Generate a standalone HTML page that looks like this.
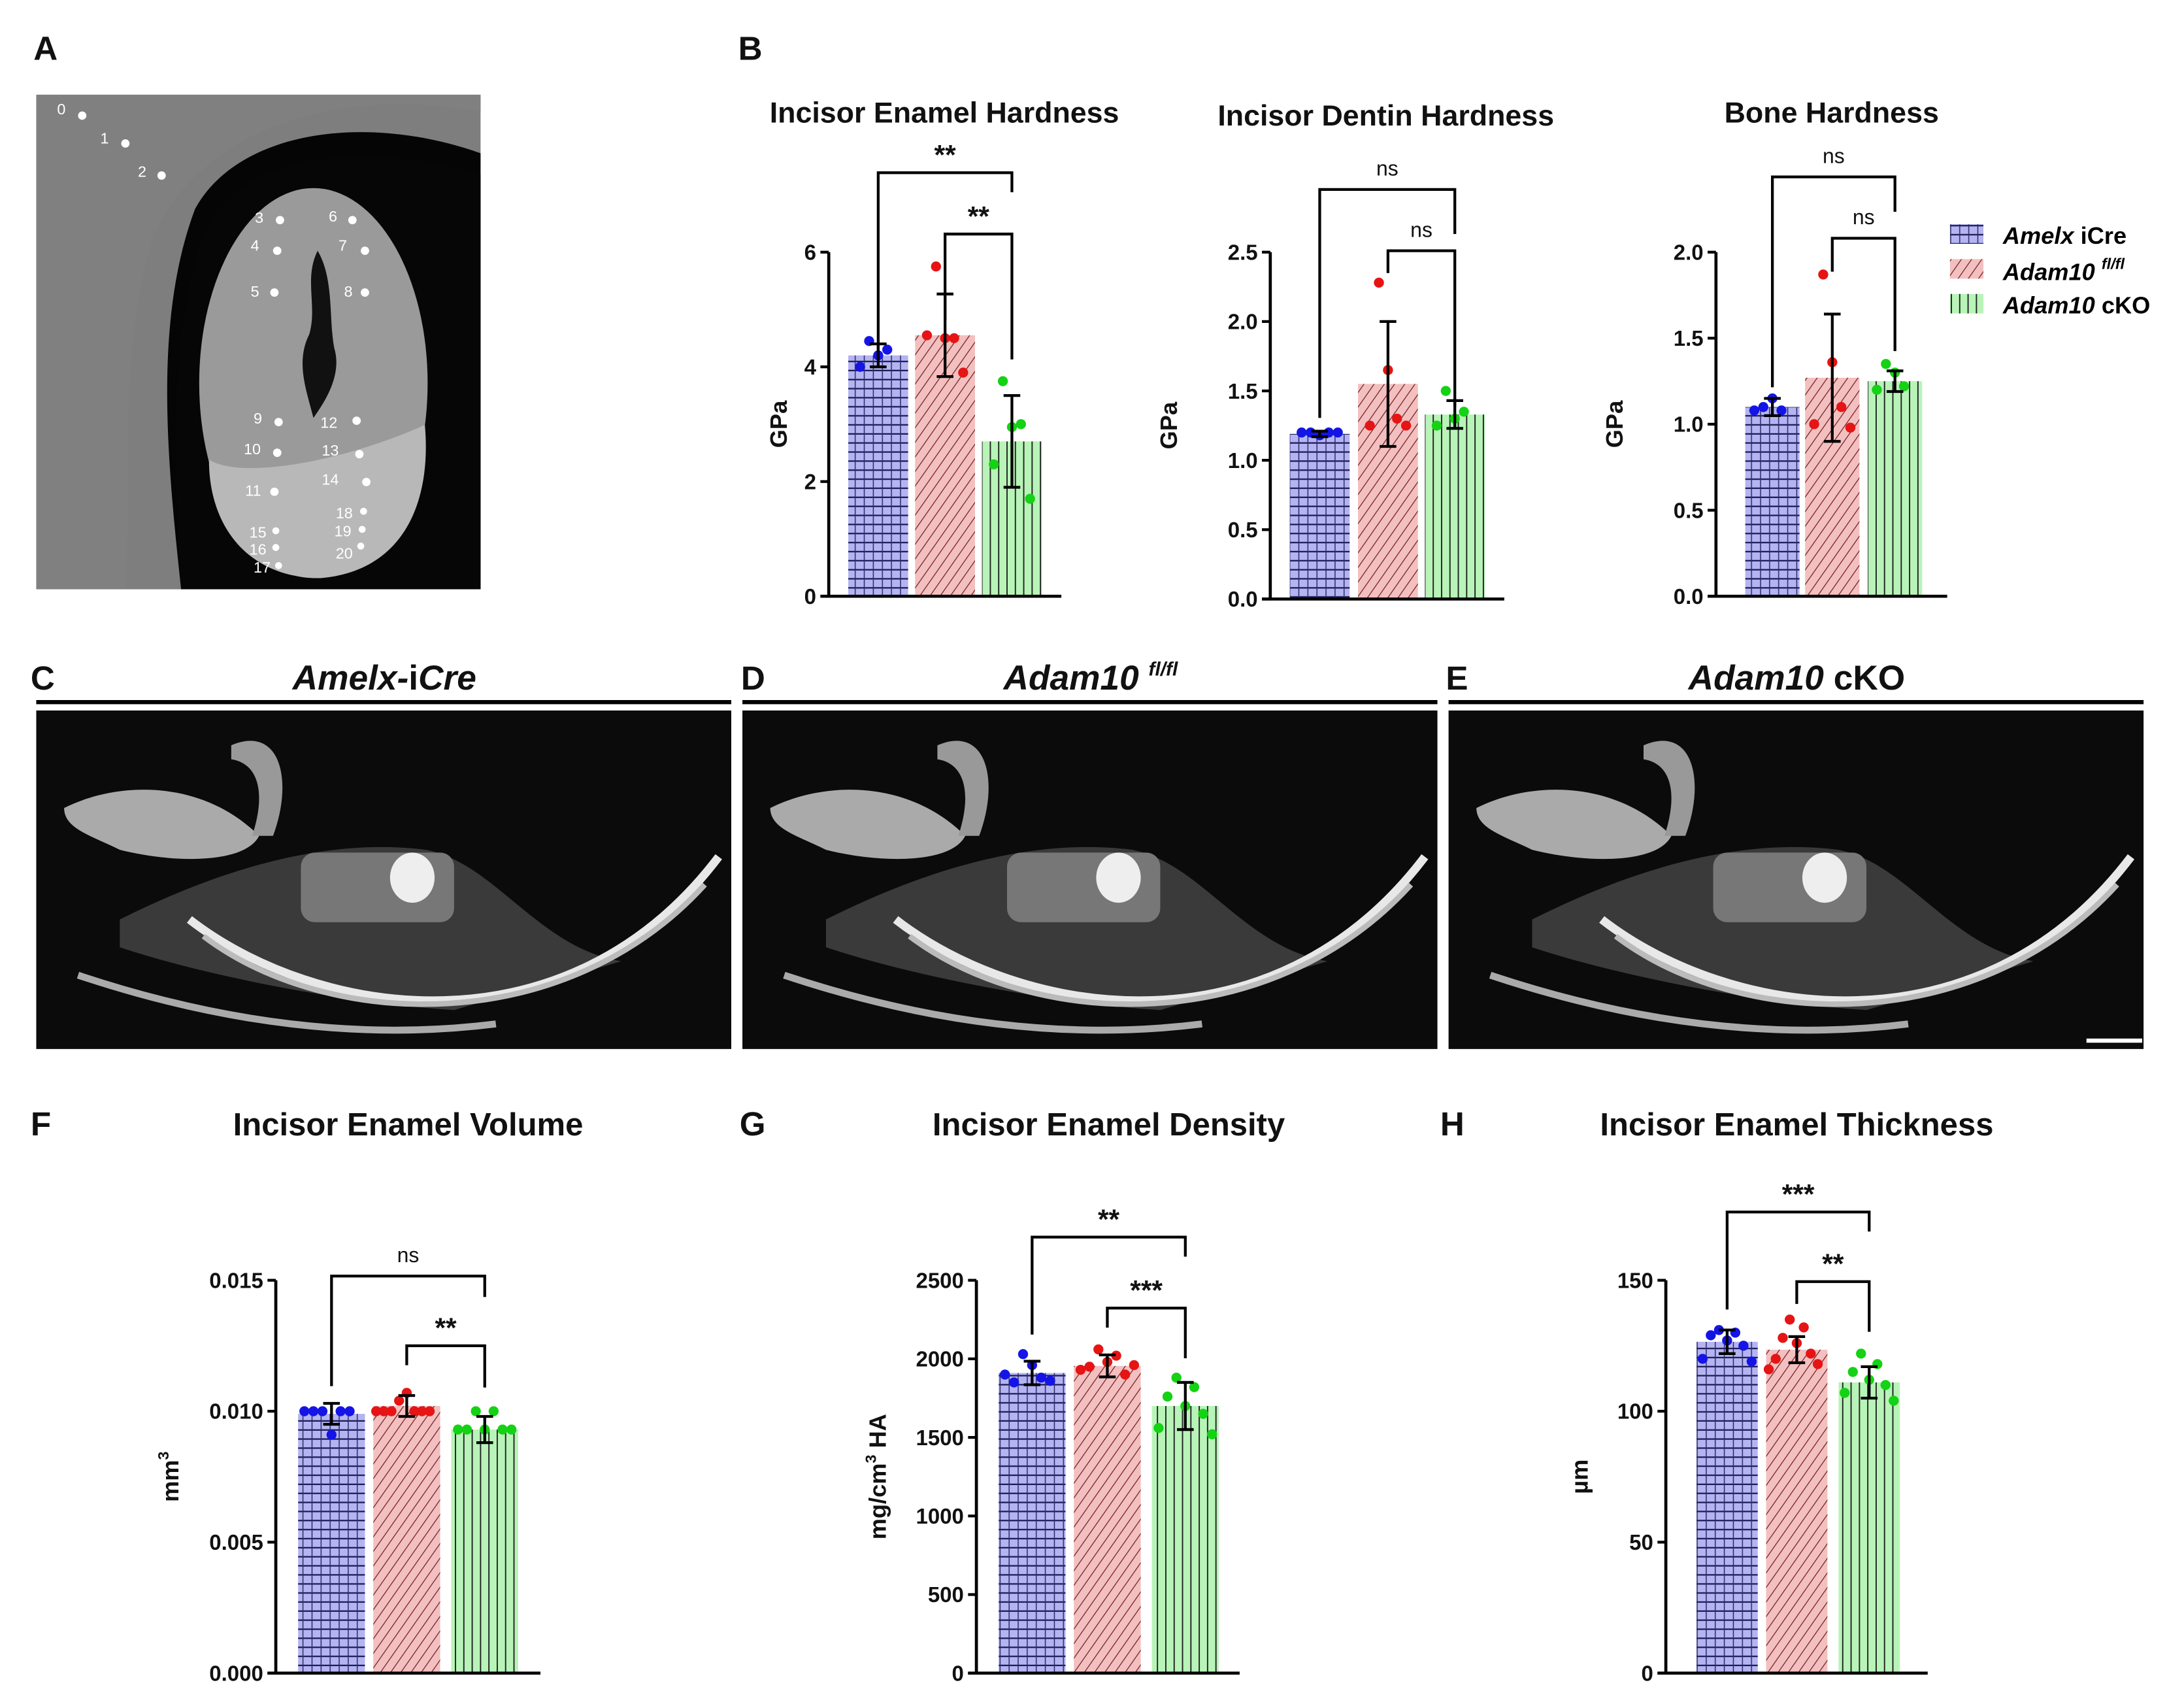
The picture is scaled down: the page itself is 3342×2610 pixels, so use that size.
<!DOCTYPE html>
<html><head><meta charset="utf-8"><style>
html,body{margin:0;padding:0;background:#fff}
svg{display:block}
text{font-family:"Liberation Sans",Arial,sans-serif}
</style></head><body>
<svg id="fig" xmlns="http://www.w3.org/2000/svg" width="3342" height="2610" viewBox="0 0 1568 1224.6">
<defs>
<pattern id="pBlue" patternUnits="userSpaceOnUse" width="6.5" height="6.5"><rect width="6.5" height="6.5" fill="#b4b4f2"/><line x1="0" y1="6" x2="6.5" y2="6" stroke="#1a1a55" stroke-width="1.1"/><line x1="3" y1="0" x2="3" y2="6.5" stroke="#2a2a66" stroke-width="0.7"/></pattern>
<pattern id="pRed" patternUnits="userSpaceOnUse" width="6" height="6" patternTransform="rotate(35)"><rect width="6" height="6" fill="#f2c0c0"/><line x1="0" y1="0" x2="0" y2="6" stroke="#7a2020" stroke-width="1.2"/></pattern>
<pattern id="pGreen" patternUnits="userSpaceOnUse" width="6" height="6"><rect width="6" height="6" fill="#b8f4b8"/><line x1="3" y1="0" x2="3" y2="6" stroke="#222" stroke-width="0.9"/></pattern>
</defs>

<g font-weight="bold" font-size="24" fill="#111">
<text x="24" y="43">A</text>
<text x="530" y="43">B</text>
<text x="22" y="495">C</text>
<text x="532" y="495">D</text>
<text x="1038" y="495">E</text>
<text x="22" y="815">F</text>
<text x="531" y="815">G</text>
<text x="1034" y="815">H</text>
</g>

<g>
<rect x="26" y="68" width="319" height="355" fill="#7e7e7e"/>
<path d="M130,423 C120,330 110,230 140,150 C170,95 260,80 345,110 L345,423 Z" fill="#050505"/>
<path d="M90,423 C95,330 85,250 110,170 C140,100 230,60 345,80 L345,68 L26,68 L26,423 Z" fill="#808080"/>
<path d="M130,423 C125,330 120,230 150,160 C180,110 260,100 345,125 L345,423 Z" fill="#060606"/>
<ellipse cx="225" cy="275" rx="82" ry="140" fill="#9a9a9a"/>
<path d="M150,330 C175,345 250,330 305,305 C310,360 290,410 230,415 C180,415 150,380 150,330 Z" fill="#b8b8b8"/>
<path d="M228,180 C240,200 236,230 240,250 C246,270 232,290 225,300 C220,280 212,260 222,240 C228,220 218,200 228,180 Z" fill="#111"/>
<g fill="#fff"><circle cx="59" cy="83" r="3"/><circle cx="90" cy="103" r="3"/><circle cx="116" cy="126" r="3"/><circle cx="201" cy="158" r="3"/><circle cx="253" cy="158" r="3"/><circle cx="199" cy="180" r="3"/><circle cx="262" cy="180" r="3"/><circle cx="197" cy="210" r="3"/><circle cx="262" cy="210" r="3"/><circle cx="200" cy="303" r="3"/><circle cx="256" cy="302" r="3"/><circle cx="199" cy="325" r="3"/><circle cx="258" cy="326" r="3"/><circle cx="197" cy="353" r="3"/><circle cx="263" cy="346" r="3"/><circle cx="198" cy="381" r="2.5"/><circle cx="198" cy="393" r="2.5"/><circle cx="200" cy="406" r="2.5"/><circle cx="261" cy="367" r="2.5"/><circle cx="260" cy="380" r="2.5"/><circle cx="259" cy="392" r="2.5"/></g>
<g fill="#fff" font-size="11"><text x="41" y="82">0</text><text x="72" y="103">1</text><text x="99" y="127">2</text><text x="183" y="160">3</text><text x="236" y="159">6</text><text x="180" y="180">4</text><text x="243" y="180">7</text><text x="180" y="213">5</text><text x="247" y="213">8</text><text x="182" y="304">9</text><text x="230" y="307">12</text><text x="175" y="326">10</text><text x="231" y="327">13</text><text x="176" y="356">11</text><text x="231" y="348">14</text><text x="179" y="386">15</text><text x="179" y="398">16</text><text x="182" y="411">17</text><text x="241" y="372">18</text><text x="240" y="385">19</text><text x="241" y="401">20</text></g>
</g>

<g id="ctPanels"></g>
<g id="charts"></g>

<g font-weight="bold" font-style="italic" font-size="17">
<rect x="1400" y="161" width="24" height="14" fill="url(#pBlue)"/>
<text x="1438" y="175">Amelx <tspan font-style="normal">iCre</tspan></text>
<rect x="1400" y="186" width="24" height="14" fill="url(#pRed)"/>
<text x="1438" y="201">Adam10 <tspan font-size="11" dy="-8">fl/fl</tspan></text>
<rect x="1400" y="211" width="24" height="14" fill="url(#pGreen)"/>
<text x="1438" y="225">Adam10 <tspan font-style="normal">cKO</tspan></text>
</g>
</svg>
<script>
const groups = ["Amelx iCre", "Adam10 fl/fl", "Adam10 cKO"];
const enamelHardMeans = [4.2, 4.55, 2.7];
const enamelHardSD = [0.2, 0.72, 0.8];
const enamelHardPts = [[4.2, 4.45, 4.3, 4.0], [4.5, 5.75, 4.5, 4.55, 3.9], [2.95, 3.75, 3.0, 2.3, 1.7]];
const enamelHardTicks = [0, 2, 4, 6];
const dentinHardMeans = [1.19, 1.55, 1.33];
const dentinHardSD = [0.02, 0.45, 0.1];
const dentinHardPts = [[1.18, 1.2, 1.2, 1.2, 1.2], [1.65, 2.28, 1.3, 1.25, 1.25], [1.3, 1.5, 1.35, 1.25]];
const dentinHardTicks = [0.0, 0.5, 1.0, 1.5, 2.0, 2.5];
const boneHardMeans = [1.1, 1.27, 1.25];
const boneHardSD = [0.05, 0.37, 0.06];
const boneHardPts = [[1.15, 1.1, 1.08, 1.08], [1.36, 1.87, 1.1, 1.0, 0.98], [1.3, 1.35, 1.22, 1.2]];
const boneHardTicks = [0.0, 0.5, 1.0, 1.5, 2.0];
const volMeans = [0.0099, 0.0102, 0.0093];
const volSD = [0.0004, 0.0004, 0.0005];
const volPts = [[0.0091, 0.01, 0.01, 0.01, 0.01, 0.01], [0.0107, 0.0104, 0.01, 0.01, 0.01, 0.01, 0.01, 0.01], [0.0093, 0.01, 0.01, 0.0093, 0.0093, 0.0093, 0.0093]];
const volTicks = [0.000, 0.005, 0.010, 0.015];
const densMeans = [1910, 1955, 1700];
const densSD = [75, 70, 150];
const densPts = [[1960, 2030, 1880, 1850, 1860, 1900], [1980, 2060, 2020, 1950, 1900, 1930, 1960], [1700, 1880, 1820, 1760, 1650, 1560, 1520]];
const densTicks = [0, 500, 1000, 1500, 2000, 2500];
const thickMeans = [126.5, 123.5, 111];
const thickSD = [4.5, 5, 6];
const thickPts = [[127, 131, 130, 129, 125, 120, 119], [126, 135, 132, 128, 122, 120, 118, 116], [112, 122, 118, 115, 110, 107, 104]];
const thickTicks = [0, 50, 100, 150];

const NS = "http://www.w3.org/2000/svg";
function el(tag, attrs, parent) {
  const e = document.createElementNS(NS, tag);
  for (const k in attrs) e.setAttribute(k, attrs[k]);
  parent.appendChild(e);
  return e;
}
const root = document.getElementById("charts");
const fills = ["url(#pBlue)", "url(#pRed)", "url(#pGreen)"];
const dotCols = ["#1414e6", "#e61414", "#14d214"];
const keys = ["amelx", "adam10-flfl", "adam10-cko"];

function chart(c) {
  const g = el("g", {}, root);
  
  
  const tmin = c.ticks[0], tmax = c.ticks[c.ticks.length - 1];
  const Y = v => c.y0 - (v - tmin) / (tmax - tmin) * (c.y0 - c.yTop);
  const t = el("text", {x: c.titleX, y: c.titleY, "text-anchor": "middle", "font-size": c.titleSize || 21, "font-weight": "bold", fill: "#111"}, g);
  t.textContent = c.title;
  
  
  c.means.forEach((m, i) => {
    const bx = c.barX[i], bw = c.barW;
    const r = el("rect", {x: bx, y: Y(m), width: bw, height: c.y0 - Y(m), fill: fills[i]}, g);
    
    
    const cx = bx + bw / 2;
    const pts = c.pts[i];
    const step = Math.min(6.5, bw * 0.8 / Math.max(1, pts.length - 1));
    pts.forEach((v, j) => {
      const off = (j % 2 ? -1 : 1) * Math.ceil(j / 2) * step;
      const d = el("circle", {cx: cx + off, cy: Y(v), r: 3.6, fill: dotCols[i]}, g);
      
      
    });
    const lo = Y(m - c.sd[i]), hi = Y(m + c.sd[i]);
    const eb = el("path", {d: `M${cx},${lo}V${hi}M${cx-6},${lo}H${cx+6}M${cx-6},${hi}H${cx+6}`, stroke: "#000", "stroke-width": 2, fill: "none"}, g);
    
    
  });
  const ax = el("path", {d: `M${c.axisX},${c.yTop}V${c.y0}M${c.axisX-6},${c.y0}H${c.xEnd}`, stroke: "#000", "stroke-width": 2.2, fill: "none"}, g);
  
  
  c.ticks.forEach((tv, k) => {
    const ty = Y(tv);
    const tk = el("line", {x1: c.axisX - 6, y1: ty, x2: c.axisX, y2: ty, stroke: "#000", "stroke-width": 2}, g);
    
    
    const tl = el("text", {x: c.axisX - 9, y: ty + 5.5, "text-anchor": "end", "font-size": 15.5, "font-weight": "bold", fill: "#111"}, g);
    tl.textContent = c.tickLabels[k];
    
    
  });
  const yl = el("text", {x: c.ylabX, y: (c.y0 + c.yTop) / 2, "text-anchor": "middle", "font-size": 17, "font-weight": "bold", fill: "#111", transform: `rotate(-90 ${c.ylabX} ${(c.y0 + c.yTop) / 2})`}, g);
  yl.innerHTML = c.ylab;
  
  
  c.brackets.forEach(b => {
    const x1 = c.barX[b.a] + c.barW / 2, x2 = c.barX[b.b] + c.barW / 2;
    const p = el("path", {d: `M${x1},${b.ya}V${b.y}H${x2}V${b.yb}`, stroke: "#000", "stroke-width": 2, fill: "none"}, g);
    
    
    const ns = b.label === "ns";
    const lt = el("text", {x: (x1 + x2) / 2, y: b.y - (ns ? 10 : 6), "text-anchor": "middle", "font-size": ns ? 15 : 20, "font-weight": ns ? "normal" : "bold", fill: "#111"}, g);
    lt.textContent = b.label;
    
    
  });
}

chart({name: "chart-incisor-enamel-hardness", title: "Incisor Enamel Hardness", titleX: 678, titleY: 88, means: enamelHardMeans, sd: enamelHardSD, pts: enamelHardPts, ticks: enamelHardTicks, tickLabels: ["0","2","4","6"],
  axisX: 595, y0: 428, yTop: 181, xEnd: 762, barX: [609, 657, 705], barW: 43, ylab: "GPa", ylabX: 565,
  brackets: [{a:0,b:2,y:124,ya:258,yb:138,label:"**"},{a:1,b:2,y:168,ya:230,yb:258,label:"**"}]});
chart({name: "chart-incisor-dentin-hardness", title: "Incisor Dentin Hardness", titleX: 995, titleY: 90, means: dentinHardMeans, sd: dentinHardSD, pts: dentinHardPts, ticks: dentinHardTicks, tickLabels: ["0.0","0.5","1.0","1.5","2.0","2.5"],
  axisX: 912, y0: 430, yTop: 181, xEnd: 1080, barX: [926, 975, 1023], barW: 43, ylab: "GPa", ylabX: 845,
  brackets: [{a:0,b:2,y:136,ya:300,yb:168,label:"ns"},{a:1,b:2,y:180,ya:196,yb:292,label:"ns"}]});
chart({name: "chart-bone-hardness", title: "Bone Hardness", titleX: 1315, titleY: 88, means: boneHardMeans, sd: boneHardSD, pts: boneHardPts, ticks: boneHardTicks, tickLabels: ["0.0","0.5","1.0","1.5","2.0"],
  axisX: 1232, y0: 428, yTop: 181, xEnd: 1398, barX: [1253, 1296, 1341], barW: 39, ylab: "GPa", ylabX: 1165,
  brackets: [{a:0,b:2,y:127,ya:278,yb:152,label:"ns"},{a:1,b:2,y:171,ya:195,yb:252,label:"ns"}]});
chart({name: "chart-incisor-enamel-volume", title: "Incisor Enamel Volume", titleX: 293, titleY: 815, titleSize: 23, means: volMeans, sd: volSD, pts: volPts, ticks: volTicks, tickLabels: ["0.000","0.005","0.010","0.015"],
  axisX: 198, y0: 1201, yTop: 919, xEnd: 388, barX: [214, 268, 324], barW: 48, ylab: "mm<tspan font-size='11' dy='-7'>3</tspan>", ylabX: 128,
  brackets: [{a:0,b:2,y:916,ya:995,yb:931,label:"ns"},{a:1,b:2,y:966,ya:980,yb:996,label:"**"}]});
chart({name: "chart-incisor-enamel-density", title: "Incisor Enamel Density", titleX: 796, titleY: 815, titleSize: 23, means: densMeans, sd: densSD, pts: densPts, ticks: densTicks, tickLabels: ["0","500","1000","1500","2000","2500"],
  axisX: 701, y0: 1201, yTop: 919, xEnd: 890, barX: [717, 771, 827], barW: 48, ylab: "mg/cm<tspan font-size='11' dy='-7'>3</tspan><tspan dy='7'> HA</tspan>", ylabX: 636,
  brackets: [{a:0,b:2,y:888,ya:958,yb:902,label:"**"},{a:1,b:2,y:939,ya:953,yb:975,label:"***"}]});
chart({name: "chart-incisor-enamel-thickness", title: "Incisor Enamel Thickness", titleX: 1290, titleY: 815, titleSize: 23, means: thickMeans, sd: thickSD, pts: thickPts, ticks: thickTicks, tickLabels: ["0","50","100","150"],
  axisX: 1196, y0: 1201, yTop: 919, xEnd: 1384, barX: [1218, 1268, 1320], barW: 44, ylab: "µm", ylabX: 1140,
  brackets: [{a:0,b:2,y:870,ya:940,yb:884,label:"***"},{a:1,b:2,y:920,ya:936,yb:956,label:"**"}]});

const ct = document.getElementById("ctPanels");
const ctX = [26, 533, 1040];
ctX.forEach((x0, i) => {
  const g = el("g", {}, ct);
  
  
  const ttl = el("text", {x: x0 + 250, y: 495, "text-anchor": "middle", "font-size": 25, "font-weight": "bold", "font-style": "italic", fill: "#111"}, g);
  if (i === 0) ttl.innerHTML = "Amelx-<tspan font-style='normal'>i</tspan>Cre";
  else if (i === 1) ttl.innerHTML = "Adam10 <tspan font-size='14' dy='-10'>fl/fl</tspan>";
  else ttl.innerHTML = "Adam10 <tspan font-style='normal'>cKO</tspan>";
  
  
  el("line", {x1: x0, y1: 504, x2: x0 + 499, y2: 504, stroke: "#000", "stroke-width": 3}, g);
  el("rect", {x: x0, y: 510, width: 499, height: 243, fill: "#0b0b0b"}, g);
  el("path", {d: `M${x0+60},660 C${x0+120},630 ${x0+200},600 ${x0+280},610 C${x0+330},620 ${x0+360},680 ${x0+420},690 L${x0+300},725 C${x0+220},720 ${x0+120},700 ${x0+60},680 Z`, fill: "#3a3a3a"}, g);
  el("path", {d: `M${x0+20},580 C${x0+60},560 ${x0+120},560 ${x0+160},600 C${x0+150},620 ${x0+100},620 ${x0+60},610 C${x0+40},600 ${x0+20},595 ${x0+20},580 Z`, fill: "#aaa"}, g);
  el("path", {d: `M${x0+140},535 C${x0+175},520 ${x0+185},560 ${x0+170},600 L${x0+155},600 C${x0+165},570 ${x0+160},548 ${x0+140},545 Z`, fill: "#999"}, g);
  el("rect", {x: x0 + 190, y: 612, width: 110, height: 50, rx: 10, fill: "#777"}, g);
  el("ellipse", {cx: x0 + 270, cy: 630, rx: 16, ry: 18, fill: "#eee"}, g);
  el("path", {d: `M${x0+110},660 C${x0+200},730 ${x0+380},760 ${x0+490},615`, stroke: "#e8e8e8", "stroke-width": 6, fill: "none"}, g);
  el("path", {d: `M${x0+120},672 C${x0+210},740 ${x0+380},745 ${x0+480},635`, stroke: "#bbb", "stroke-width": 4, fill: "none"}, g);
  el("path", {d: `M${x0+30},700 C${x0+150},740 ${x0+250},745 ${x0+330},735`, stroke: "#aaa", "stroke-width": 5, fill: "none"}, g);
});
el("line", {x1: 1498, y1: 747, x2: 1538, y2: 747, stroke: "#fff", "stroke-width": 3}, ct);
</script>
</body></html>
